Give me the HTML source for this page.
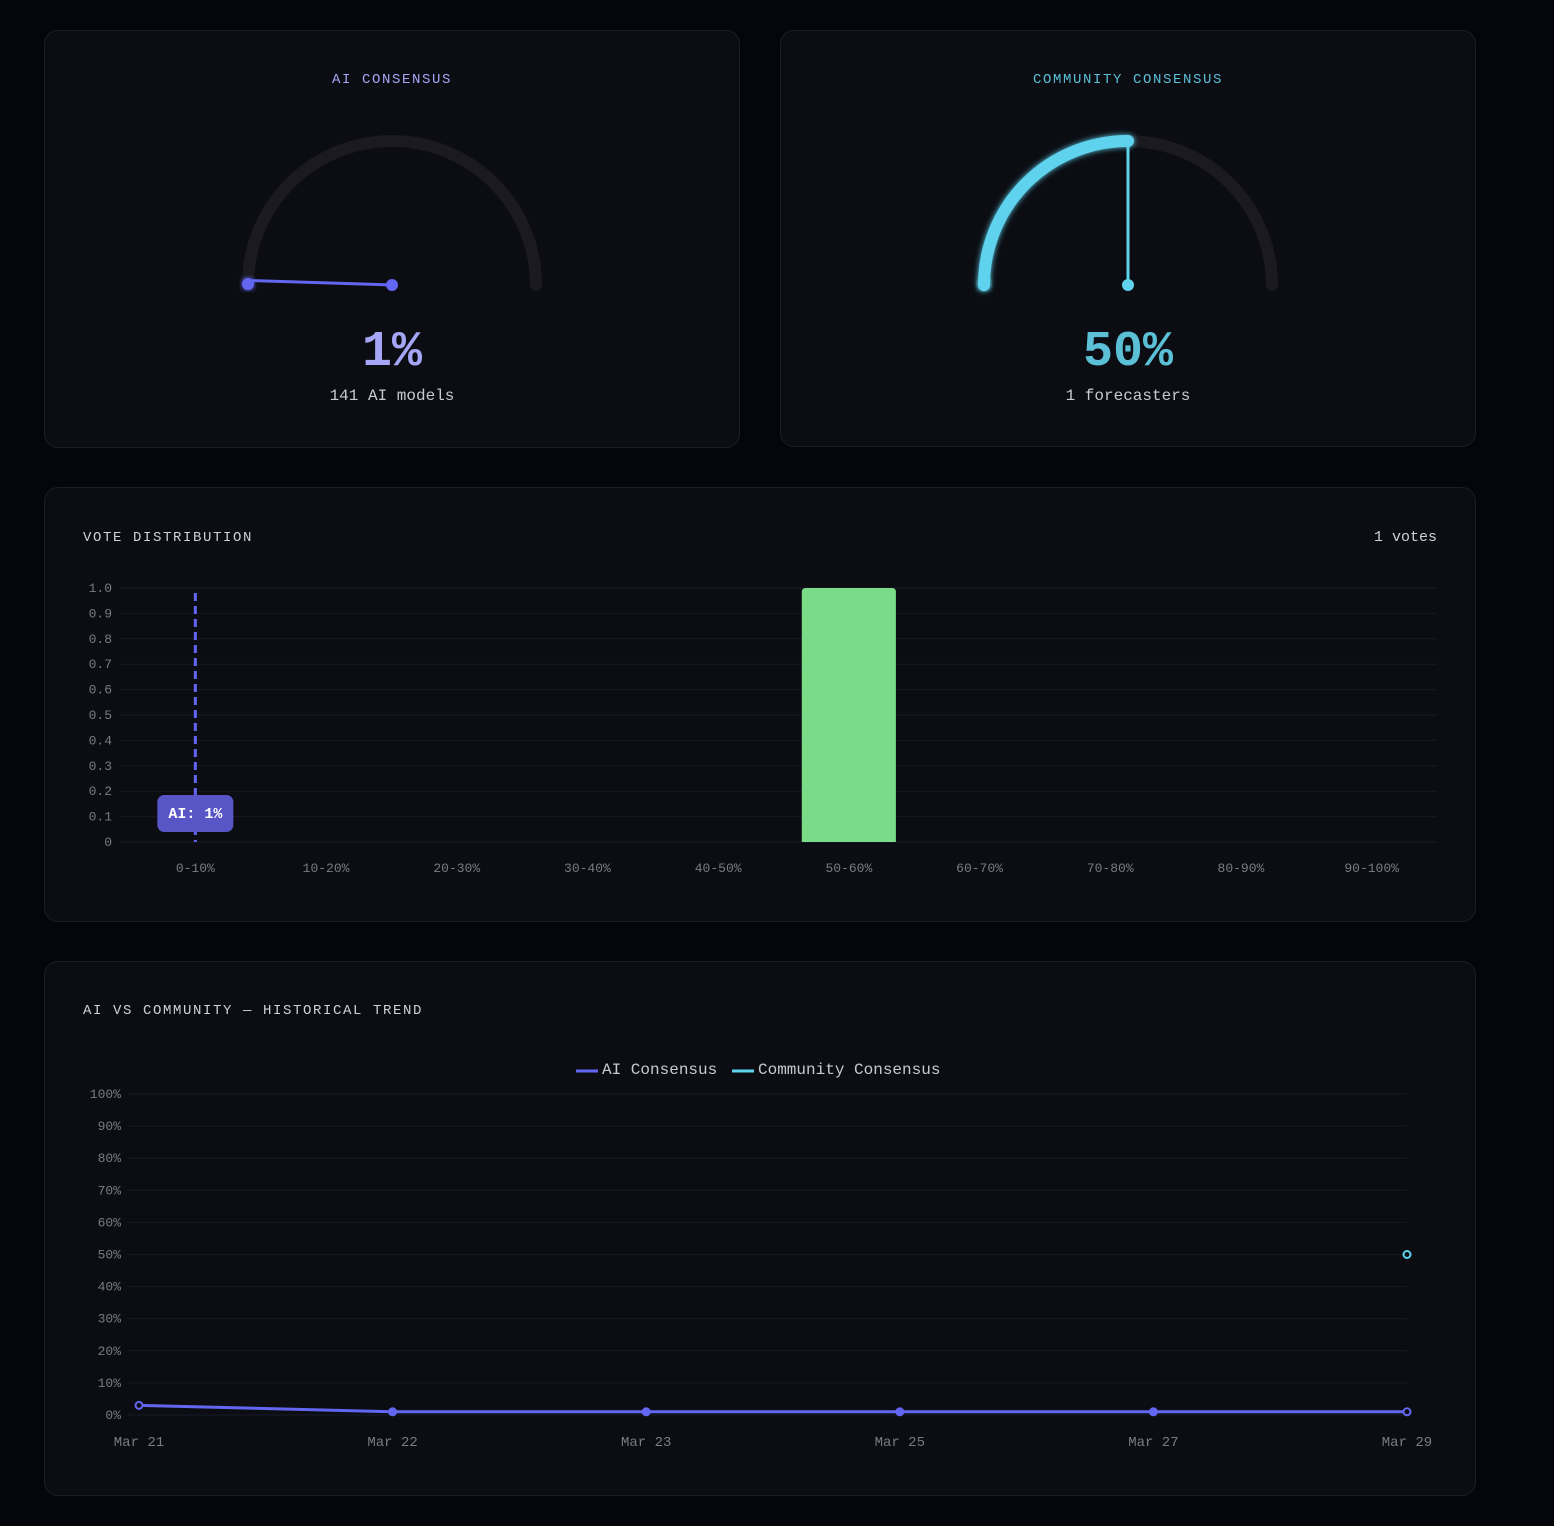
<!DOCTYPE html>
<html><head><meta charset="utf-8"><style>
body{margin:0;background:#05060b;width:1554px;height:1526px;overflow:hidden;font-family:"Liberation Mono",monospace;}
.card{position:absolute;background:#0b0d13;border:1px solid #1b1d26;border-radius:14px;box-sizing:border-box;}
svg text{font-family:"Liberation Mono",monospace;}
</style></head><body>
<div class="card" style="left:44px;top:30px;width:696px;height:418px"></div>
<div class="card" style="left:780px;top:30px;width:696px;height:417px"></div>
<div class="card" style="left:44px;top:487px;width:1432px;height:435px"></div>
<div class="card" style="left:44px;top:961px;width:1432px;height:535px"></div>
<svg id="svg" width="1554" height="1526" style="position:absolute;left:0;top:0">
<defs><filter id="glow" x="-20%" y="-20%" width="140%" height="140%"><feGaussianBlur stdDeviation="3" result="b"/><feMerge><feMergeNode in="b"/><feMergeNode in="SourceGraphic"/></feMerge></filter></defs>
<g id="gauges"></g>
<g id="bars"></g>
<g id="trend"></g>
</svg>
<script>
const gaugeTitles=["AI CONSENSUS","COMMUNITY CONSENSUS"];
const gaugeValues=[1,50];
const gaugeSubs=["141 AI models","1 forecasters"];
const gaugeColors=["#a5a6f6","#5bbfd6"];
const gaugeArcColors=["#6366f1","#5fd3ee"];

const barCategories=["0-10%","10-20%","20-30%","30-40%","40-50%","50-60%","60-70%","70-80%","80-90%","90-100%"];
const barValues=[0,0,0,0,0,1,0,0,0,0];
const barTicks=[0,0.1,0.2,0.3,0.4,0.5,0.6,0.7,0.8,0.9,1.0];
const aiConsensus=1;

const trendDates=["Mar 21","Mar 22","Mar 23","Mar 25","Mar 27","Mar 29"];
const aiSeries=[3,1,1,1,1,1];
const communitySeries=[null,null,null,null,null,50];
const trendTicks=[0,10,20,30,40,50,60,70,80,90,100];

const NS="http://www.w3.org/2000/svg";
function mk(parent,tag,attrs,text){const e=document.createElementNS(NS,tag);for(const k in attrs)e.setAttribute(k,attrs[k]);if(text!==undefined)e.textContent=text;parent.appendChild(e);return e;}

// Gauges
const gG=document.getElementById('gauges');
[392,1128].forEach((cx,i)=>{
  const cy=285,r=144;
  const t=mk(gG,'text',{x:cx,y:83,'text-anchor':'middle',fill:gaugeColors[i],'font-size':14,'letter-spacing':1.6},gaugeTitles[i]);
  
  
  const bg=mk(gG,'path',{d:`M${cx-r} ${cy} A${r} ${r} 0 0 1 ${cx+r} ${cy}`,fill:'none',stroke:'#1a1a20','stroke-width':12,'stroke-linecap':'round'});
  
  
  const a=Math.PI*(1-gaugeValues[i]/100);
  const ex=cx+r*Math.cos(a),ey=cy-r*Math.sin(a);
  const arc=mk(gG,'path',{d:`M${cx-r} ${cy} A${r} ${r} 0 0 1 ${ex} ${ey}`,fill:'none',stroke:gaugeArcColors[i],'stroke-width':12,'stroke-linecap':'round',filter:'url(#glow)'});
  
  
  const cap=mk(gG,'circle',{cx:cx-r,cy:cy-1,r:6,fill:gaugeArcColors[i],filter:'url(#glow)'});
  
  
  const nd=mk(gG,'line',{x1:cx,y1:cy,x2:ex,y2:ey,stroke:gaugeArcColors[i],'stroke-width':3});
  
  
  const hub=mk(gG,'circle',{cx:cx,cy:cy,r:6,fill:gaugeArcColors[i]});
  
  
  const v=mk(gG,'text',{x:cx,y:365,'text-anchor':'middle',fill:gaugeColors[i],'font-size':50,'font-weight':'bold'},gaugeValues[i]+'%');
  
  
  const s=mk(gG,'text',{x:cx,y:400,'text-anchor':'middle',fill:'#c8c9d2','font-size':16},gaugeSubs[i]);
  
  
});

// Bar chart
const gB=document.getElementById('bars');
const bx0=130,bx1=1437,by0=842,by1=588;
const band=(bx1-bx0)/barCategories.length;
const xB=i=>bx0+band*(i+0.5);
const yB=v=>by0-(by0-by1)*v;
let e=mk(gB,'text',{x:83,y:541,fill:'#d0d1d8','font-size':14,'letter-spacing':1.6},'VOTE DISTRIBUTION');


e=mk(gB,'text',{x:1437,y:541,'text-anchor':'end',fill:'#d0d1d8','font-size':15},barValues.reduce((a,b)=>a+b,0)+' votes');


barTicks.forEach(t=>{
  const y=yB(t);
  const l=mk(gB,'line',{x1:bx0-10,x2:bx1,y1:y,y2:y,stroke:'#171a26','stroke-width':1});
  
  
  const tx=mk(gB,'text',{x:112,y:y+4,'text-anchor':'end',fill:'#7a7b84','font-size':13},t===0?'0':t.toFixed(1));
  
  
});
barCategories.forEach((c,i)=>{
  const tx=mk(gB,'text',{x:xB(i),y:872,'text-anchor':'middle',fill:'#7a7b84','font-size':13},c);
  
  
  if(barValues[i]>0){
    const w=band*0.72,y=yB(barValues[i]);
    const b=mk(gB,'path',{d:`M${xB(i)-w/2} ${by0} V${y+4} Q${xB(i)-w/2} ${y} ${xB(i)-w/2+4} ${y} H${xB(i)+w/2-4} Q${xB(i)+w/2} ${y} ${xB(i)+w/2} ${y+4} V${by0} Z`,fill:'#7adc88'});
    
    
  }
});
const ax=bx0+band*(Math.min(9,Math.floor(aiConsensus/10))+0.5);
e=mk(gB,'line',{x1:ax,x2:ax,y1:593,y2:by0,stroke:'#6366f1','stroke-width':3,'stroke-dasharray':'8,5'});


e=mk(gB,'rect',{x:ax-38,y:795,width:76,height:37,rx:7,fill:'#5855c6'});


e=mk(gB,'text',{x:ax,y:818,'text-anchor':'middle',fill:'#ffffff','font-size':15,'font-weight':'bold'},'AI: '+aiConsensus+'%');



// Trend chart
const gT=document.getElementById('trend');
const tx0=139,tx1=1407,ty0=1415,ty1=1094;
const xT=i=>tx0+(tx1-tx0)*i/(trendDates.length-1);
const yT=v=>ty0-(ty0-ty1)*v/100;
e=mk(gT,'text',{x:83,y:1014,fill:'#d0d1d8','font-size':14,'letter-spacing':1.6},'AI VS COMMUNITY — HISTORICAL TREND');


e=mk(gT,'line',{x1:576,x2:598,y1:1071,y2:1071,stroke:'#6366f1','stroke-width':3});


e=mk(gT,'text',{x:602,y:1074,fill:'#c8c9d2','font-size':16},'AI Consensus');


e=mk(gT,'line',{x1:732,x2:754,y1:1071,y2:1071,stroke:'#5fd3ee','stroke-width':3});


e=mk(gT,'text',{x:758,y:1074,fill:'#c8c9d2','font-size':16},'Community Consensus');


trendTicks.forEach(t=>{
  const y=yT(t);
  const l=mk(gT,'line',{x1:128,x2:tx1,y1:y,y2:y,stroke:'#171a26','stroke-width':1});
  
  
  const tt=mk(gT,'text',{x:121,y:y+4,'text-anchor':'end',fill:'#7a7b84','font-size':13},t+'%');
  
  
});
trendDates.forEach((d,i)=>{
  const tt=mk(gT,'text',{x:xT(i),y:1446,'text-anchor':'middle',fill:'#7a7b84','font-size':14},d);
  
  
});
function drawSeries(vals,color,name){
  let d='';
  vals.forEach((v,i)=>{if(v===null)return;d+=(d?'L':'M')+xT(i)+' '+yT(v)+' ';});
  if(d.split('L').length>1){const p=mk(gT,'path',{d:d,fill:'none',stroke:color,'stroke-width':3});
    
    }
  vals.forEach((v,i)=>{if(v===null)return;
    const hollow=(i===0||i===vals.length-1);
    const c=mk(gT,'circle',{cx:xT(i),cy:yT(v),r:3.5,fill:hollow?'#0b0d13':color,stroke:color,'stroke-width':2});
    
    
  });
}
drawSeries(aiSeries,'#6366f1','ai');
drawSeries(communitySeries,'#5fd3ee','community');
</script>
</body></html>
